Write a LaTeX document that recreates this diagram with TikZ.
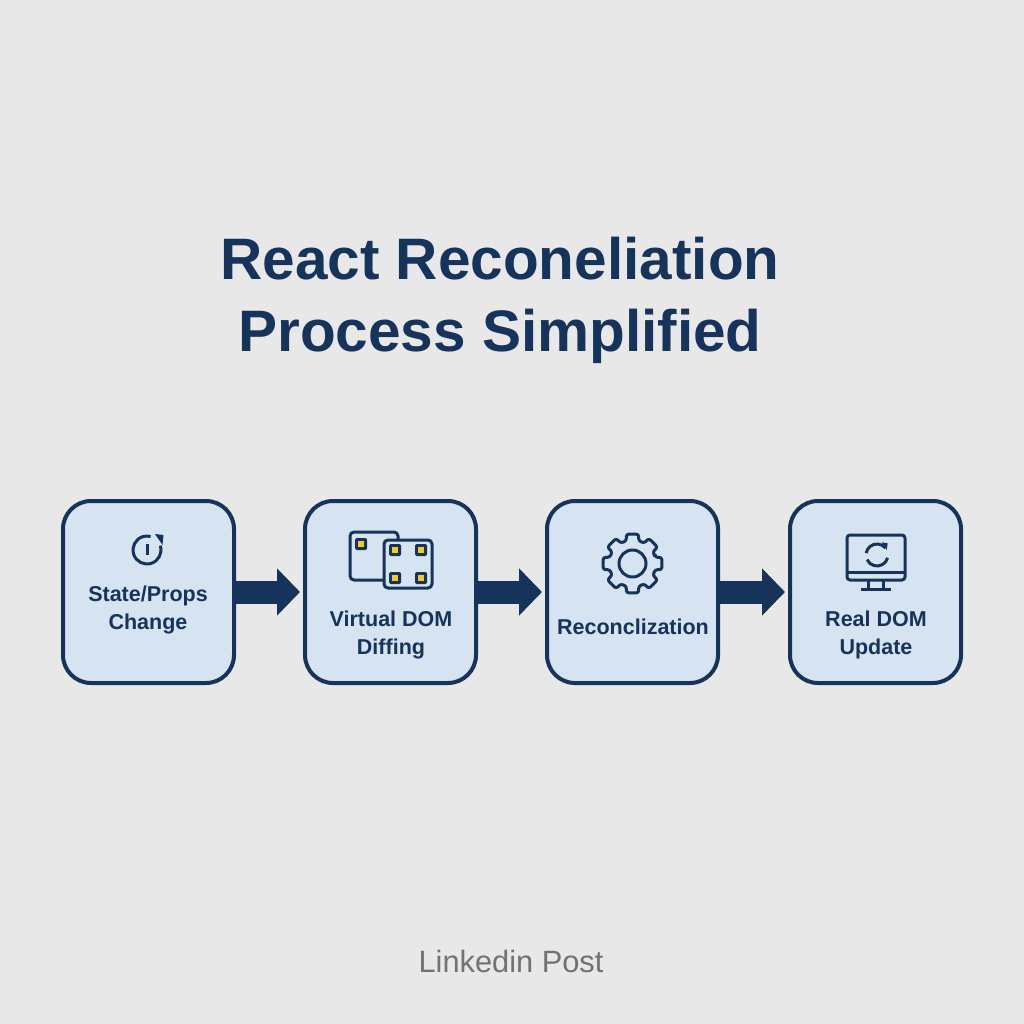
\documentclass[tikz,border=0pt]{standalone}
\usepackage{fontspec}
\setmainfont{Liberation Sans}
\usetikzlibrary{arrows.meta}
\definecolor{bgc}{HTML}{E8E8E8}
\definecolor{navy}{HTML}{16335B}
\definecolor{boxc}{HTML}{D6E3F1}
\definecolor{yel}{HTML}{F2CD1F}
\definecolor{foot}{HTML}{6F7276}
\tikzset{
  stepbox/.style={draw=navy,fill=boxc,line width=4pt,rounded corners=28pt,minimum width=171pt,minimum height=182pt,outer sep=0pt,inner sep=0pt},
  flow/.style={navy,line width=23pt,-{Triangle[length=23pt,width=46pt]},shorten >=5pt},
  boxlabel/.style={text=navy,align=center,inner sep=0pt,font=\fontsize{21.5}{28}\selectfont\bfseries},
  icon/.style={draw=navy,line width=3pt,line join=round},
  pip/.style={fill=navy,rounded corners=1.5pt,minimum size=12pt,inner sep=0pt},
  pipin/.style={fill=yel,minimum size=6.5pt,inner sep=0pt},
}
\newcommand{\domsq}[1]{\node[pip] at (#1) {}; \node[pipin] at (#1) {};}
\begin{document}
\begin{tikzpicture}[x=1pt,y=-1pt]
\useasboundingbox[fill=bgc] (0,0) rectangle (1024,1024);
\node[text=navy,align=center,inner sep=0pt,font=\fontsize{58.5}{72}\selectfont\bfseries] (title) at (500,300) {React Reconeliation\\Process Simplified};
\node[stepbox] (a) at (148.5,592) {};
\node[stepbox] (b) at (390.5,592) {};
\node[stepbox] (c) at (632.5,592) {};
\node[stepbox] (d) at (875.5,592) {};
\draw[flow] (a.east) -- (b.west);
\draw[flow] (b.east) -- (c.west);
\draw[flow] (c.east) -- (d.west);
\node[boxlabel] (la) at (148,610) {State/Props\\Change};
\node[boxlabel] (lb) at (391,635) {Virtual DOM\\Diffing};
\node[boxlabel] (lc) at (633,627) {Reconclization};
\node[boxlabel] (ld) at (876,635) {Real DOM\\Update};
\node[text=foot,inner sep=0pt,font=\fontsize{30.8}{36}\selectfont] (footer) at (511,961) {Linkedin Post};
% icon 1
\begin{scope}[shift={(147,550)}]
\draw[icon] (-18:14) arc[start angle=-18,end angle=285,radius=14];
\fill[navy] (8,-16) -- (16.5,-15) -- (15.5,-5) -- cycle;
\draw[icon] (0,-6) -- (0,5);
\end{scope}
% icon 2
\draw[icon,rounded corners=4pt] (350,532) rectangle (398,580);
\draw[icon,fill=boxc,rounded corners=4pt] (384,540) rectangle (432,588);
\domsq{361,544}
\domsq{395,550}
\domsq{421,550}
\domsq{395,578}
\domsq{421,578}
% icon 3 gear
\begin{scope}[shift={(632.5,563.5)}]
\draw[icon,rounded corners=2.5pt] (-15:23.5)
  \foreach \a in {0,45,...,315} { -- (\a-15:23.5) -- (\a-12:30) -- (\a+12:30) -- (\a+15:23.5) } -- cycle;
\draw[icon] (0,0) circle[radius=13.5];
\end{scope}
% icon 4 monitor
\draw[icon,rounded corners=3pt] (847,535) rectangle (905,580);
\draw[icon] (847,572) -- (905,572);
\draw[icon] (868,580) -- (868,589);
\draw[icon] (883,580) -- (883,589);
\draw[icon] (861,589.5) -- (891,589.5);
\begin{scope}[shift={(877,555)}]
\draw[icon] (-40:11) arc[start angle=-40,end angle=-170,radius=11];
\draw[icon] (15:11) arc[start angle=15,end angle=155,radius=11];
\fill[navy] (4.7,-12.7) -- (10.7,-11.7) -- (9.7,-5) -- cycle;
\end{scope}
\end{tikzpicture}
\end{document}
